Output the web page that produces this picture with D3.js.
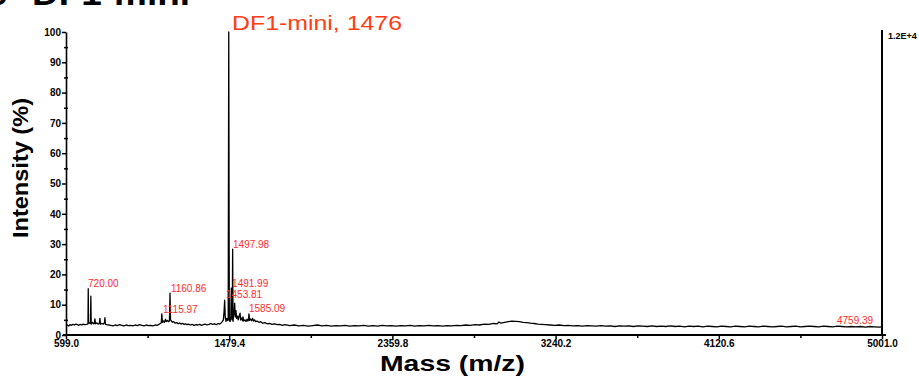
<!DOCTYPE html>
<html>
<head>
<meta charset="utf-8">
<script src="https://cdn.jsdelivr.net/npm/d3@7"></script>
<style>
  body { margin: 0; background: #fff; }
  svg { display: block; font-family: "Liberation Sans", Arial, sans-serif; }
</style>
</head>
<body>
<svg id="chart" width="919" height="376"></svg>
<script>
// axis ranges and ticks
const massRange = [599, 5001];
const intRange = [0, 100];
const xMajorTicks = [599.0, 1479.4, 2359.8, 3240.2, 4120.6, 5001.0];
const xMinorTicks = [1039.2, 1919.6, 2800.0, 3680.4, 4560.8];
const yMajorTicks = [0, 10, 20, 30, 40, 50, 60, 70, 80, 90, 100];
const yMinorTicks = [5, 15, 25, 35, 45, 55, 65, 75, 85, 95];

// annotated peaks: text, anchor mass, anchor intensity
const peakLabels = ["720.00", "1160.86", "1115.97", "1497.98", "1491.99", "1453.81", "1585.09", "4759.39"];
const labelMass = [718, 1165, 1122, 1500, 1495, 1462, 1586, 4758];
const labelInt = [15.8, 14.2, 7.3, 28.7, 15.8, 12.2, 7.6, 3.6];

// spectrum: [m/z, intensity %]
const spectrum = [
  [599,3.1],[606,3.3],[613,3.0],[620,3.4],[628,3.2],[636,3.5],[644,3.3],[652,3.6],[660,3.4],[668,3.2],
  [676,3.5],[684,3.3],[692,3.6],[700,3.4],[708,3.5],[714,3.6],[717.5,3.7],[719,15.3],[720.5,3.9],[726,4.0],
  [731,3.8],[733,12.8],[735,3.6],[742,4.2],[748,3.7],[752,3.8],[755,5.3],[758,3.7],[766,4.0],[772,3.6],
  [779,3.8],[782,5.5],[785,3.6],[792,3.8],[800,3.6],[806,4.0],[809,5.7],[812,3.5],[820,3.4],[830,3.3],
  [840,3.2],[852,3.0],[864,3.3],[876,3.1],[888,3.4],[900,3.2],[912,3.0],[924,3.3],[936,3.1],[948,3.2],
  [960,3.0],[972,3.3],[984,3.1],[996,3.4],[1008,3.2],[1020,3.0],[1032,3.3],[1044,3.1],[1056,3.2],[1068,3.0],
  [1080,3.3],[1092,3.2],[1100,3.5],[1108,3.8],[1113,4.0],[1116,7.0],[1119,4.2],[1124,4.6],[1130,4.2],[1136,5.2],
  [1140,4.4],[1146,4.8],[1152,4.4],[1157,4.6],[1160,13.8],[1163,5.0],[1168,4.6],[1174,4.2],[1180,4.4],[1188,3.9],
  [1196,4.1],[1204,3.7],[1212,4.0],[1220,3.6],[1228,3.9],[1236,3.5],[1244,3.7],[1252,3.4],[1260,3.6],[1270,3.3],
  [1280,3.5],[1290,3.2],[1300,3.4],[1310,3.3],[1320,3.5],[1330,3.2],[1340,3.4],[1350,3.6],[1360,3.3],[1370,3.5],
  [1380,3.8],[1390,3.5],[1400,3.7],[1410,3.4],[1420,3.8],[1428,3.6],[1436,4.0],[1442,4.4],[1448,5.0],[1452,8.0],
  [1455,11.5],[1458,6.0],[1462,4.5],[1466,5.5],[1471,4.8],[1474,5.0],[1477,100],[1480,5.0],[1484,4.4],[1488,6.0],
  [1491,15.5],[1494,5.0],[1496,6.0],[1498,28.3],[1500,4.5],[1503,6.5],[1506,7.5],[1509,10.5],[1512,6.0],[1516,8.0],
  [1519,5.5],[1524,6.2],[1528,5.0],[1534,6.5],[1538,7.2],[1541,5.0],[1547,5.6],[1551,4.7],[1554,6.0],[1558,4.6],
  [1565,5.0],[1570,4.5],[1576,5.2],[1580,4.6],[1583,5.0],[1586,7.0],[1589,4.8],[1594,5.3],[1600,4.7],[1606,5.5],
  [1610,4.6],[1616,5.0],[1622,4.4],[1630,4.6],[1640,4.2],[1650,4.4],[1660,3.9],[1672,4.1],[1684,3.7],[1696,3.8],
  [1710,3.5],[1724,3.7],[1738,3.4],[1752,3.5],[1766,3.2],[1780,3.4],[1805,3.1],[1830,3.3],[1855,3.0],[1880,3.2],
  [1905,2.9],[1930,3.1],[1955,3.3],[1980,3.0],[2005,3.2],[2030,2.9],[2055,3.1],[2080,3.0],[2105,3.2],[2130,2.9],
  [2155,3.1],[2180,3.0],[2205,3.2],[2230,2.9],[2255,3.1],[2280,2.9],[2305,3.2],[2330,3.0],[2355,3.1],[2380,2.9],
  [2405,3.1],[2430,3.0],[2455,3.2],[2480,2.9],[2505,3.1],[2530,3.0],[2555,3.2],[2580,3.0],[2605,3.1],[2630,2.9],
  [2655,3.1],[2680,3.0],[2705,3.2],[2730,3.1],[2755,3.3],[2780,3.2],[2805,3.4],[2830,3.3],[2855,3.6],[2880,3.5],
  [2905,3.8],[2925,3.7],[2935,4.3],[2945,3.9],[2965,4.2],[2985,4.4],[3005,4.6],[3025,4.5],[3045,4.4],[3065,4.2],
  [3085,4.1],[3105,3.9],[3125,3.8],[3145,3.6],[3165,3.5],[3185,3.4],[3210,3.3],[3235,3.2],[3260,3.3],[3285,3.1],
  [3310,3.2],[3335,3.0],[3360,3.1],[3385,2.9],[3410,3.1],[3435,3.0],[3460,2.9],[3485,3.1],[3510,2.9],[3535,3.0],
  [3560,2.8],[3585,3.0],[3610,2.9],[3635,3.0],[3660,2.8],[3685,3.0],[3710,2.9],[3735,2.8],[3760,3.0],[3785,2.8],
  [3810,2.9],[3835,2.8],[3860,3.0],[3885,2.8],[3910,2.9],[3935,2.7],[3960,2.9],[3985,2.8],[4010,2.9],[4035,2.7],
  [4060,2.9],[4085,2.8],[4110,2.7],[4135,2.9],[4160,2.8],[4185,2.7],[4210,2.9],[4235,2.8],[4260,2.7],[4285,2.9],
  [4310,2.8],[4335,2.7],[4360,2.9],[4385,2.8],[4410,2.7],[4435,2.8],[4460,2.9],[4485,2.7],[4510,2.8],[4535,2.9],
  [4560,2.7],[4585,2.8],[4610,2.9],[4635,2.8],[4660,2.7],[4685,2.9],[4710,2.8],[4735,2.7],[4760,2.9],[4785,2.8],
  [4810,2.7],[4835,2.8],[4860,2.7],[4885,2.8],[4910,2.6],[4935,2.8],[4960,2.7],[4985,2.6],[5001,2.7]
];

const svg = d3.select("#chart");

const x = d3.scaleLinear().domain(massRange).range([66, 882]);
const y = d3.scaleLinear().domain(intRange).range([335, 32]);

// spectrum trace
svg.append("path")
  .datum(spectrum)
  .attr("fill", "none")
  .attr("stroke", "#000")
  .attr("stroke-width", 1.3)
  .attr("stroke-linejoin", "round")
  .attr("d", d3.line().x(d => x(d[0])).y(d => y(d[1])));

// minor ticks first so the axis lines sit on top
svg.append("g")
  .attr("transform", "translate(0,335)")
  .call(d3.axisBottom(x).tickValues(xMinorTicks).tickSize(3).tickFormat(""))
  .call(g => g.select(".domain").remove())
  .selectAll("line").attr("stroke-width", 1.5);

svg.append("g")
  .attr("transform", "translate(68,0)")
  .call(d3.axisLeft(y).tickValues(yMinorTicks).tickSize(4).tickFormat(""))
  .call(g => g.select(".domain").remove())
  .selectAll("line").attr("stroke-width", 1.5);

// x axis
const xAxis = svg.append("g")
  .attr("transform", "translate(0,335)")
  .call(d3.axisBottom(x).tickValues(xMajorTicks).tickSize(4).tickSizeOuter(0)
    .tickPadding(1).tickFormat(d3.format(".1f")));
xAxis.select(".domain").attr("stroke-width", 2.2).attr("d", "M63,0H886");
xAxis.selectAll("line").attr("stroke-width", 1.5);
xAxis.selectAll("text").attr("font-size", 10).attr("font-weight", "bold")
  .attr("font-family", "'Liberation Sans', Arial, sans-serif").attr("fill", "#000");

// y axis
const yAxis = svg.append("g")
  .attr("transform", "translate(66,0)")
  .call(d3.axisLeft(y).tickValues(yMajorTicks).tickSize(4).tickSizeOuter(0).tickPadding(1));
yAxis.select(".domain").attr("stroke-width", 1.6);
yAxis.selectAll("line").attr("stroke-width", 1.5);
yAxis.selectAll("text").attr("font-size", 10).attr("font-weight", "bold")
  .attr("font-family", "'Liberation Sans', Arial, sans-serif").attr("fill", "#000");

// right frame line
svg.append("line")
  .attr("x1", x(massRange[1])).attr("x2", x(massRange[1]))
  .attr("y1", y(100) - 2).attr("y2", y(0))
  .attr("stroke", "#000").attr("stroke-width", 2);

svg.append("text")
  .attr("x", x(massRange[1]) + 6).attr("y", 39)
  .attr("font-size", 9).attr("font-weight", "bold")
  .text("1.2E+4");

// peak labels
svg.append("g").selectAll("text")
  .data(peakLabels)
  .join("text")
  .attr("x", (d, i) => x(labelMass[i]))
  .attr("y", (d, i) => y(labelInt[i]))
  .attr("font-size", 10)
  .attr("fill", "#ff2b2b")
  .text(d => d);

// main peak title
svg.append("text")
  .attr("x", 232).attr("y", 30)
  .attr("font-size", 21)
  .attr("fill", "#ff3d14")
  .attr("textLength", 170).attr("lengthAdjust", "spacingAndGlyphs")
  .text("DF1-mini, 1476");

// cut-off panel heading at top
svg.append("text")
  .attr("x", 7).attr("y", 5)
  .attr("text-anchor", "end")
  .attr("font-size", 34).attr("font-weight", "bold")
  .text("c");
svg.append("text")
  .attr("x", 32).attr("y", 5)
  .attr("font-size", 34).attr("font-weight", "bold")
  .attr("textLength", 158).attr("lengthAdjust", "spacingAndGlyphs")
  .text("DF1-mini");

// axis titles
svg.append("text")
  .attr("transform", "translate(28,168) rotate(-90)")
  .attr("text-anchor", "middle")
  .attr("font-size", 22).attr("font-weight", "bold")
  .attr("textLength", 140).attr("lengthAdjust", "spacingAndGlyphs")
  .text("Intensity (%)");

svg.append("text")
  .attr("x", 380).attr("y", 371)
  .attr("font-size", 22).attr("font-weight", "bold")
  .attr("textLength", 145).attr("lengthAdjust", "spacingAndGlyphs")
  .text("Mass (m/z)");
</script>
</body>
</html>
